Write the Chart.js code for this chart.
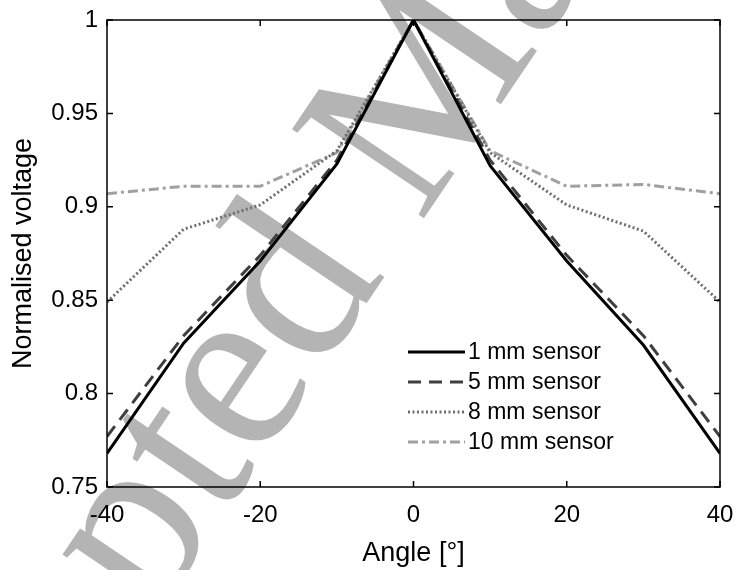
<!DOCTYPE html>
<html>
<head>
    <title>Normalised voltage vs angle</title>
    <style>
        body { margin: 0; padding: 0; background: #fff; }
        #chartContainer { width: 736px; height: 570px; }
    </style>
    <script src="https://cdn.jsdelivr.net/npm/chart.js"></script>
</head>
<body>

    <div id="chartContainer">
        <canvas id="myLineChart"></canvas>
    </div>

    <script>
        const angles = [-40, -30, -20, -10, 0, 10, 20, 30, 40];
        const sensor1mm = [0.768, 0.827, 0.871, 0.923, 1, 0.922, 0.871, 0.826, 0.768];
        const sensor5mm = [0.777, 0.831, 0.874, 0.925, 1, 0.925, 0.874, 0.831, 0.777];
        const sensor8mm = [0.849, 0.888, 0.901, 0.930, 1, 0.929, 0.901, 0.887, 0.849];
        const sensor10mm = [0.907, 0.911, 0.911, 0.929, 1, 0.930, 0.911, 0.912, 0.907];
        const seriesLabels = ['1 mm sensor', '5 mm sensor', '8 mm sensor', '10 mm sensor'];
        const yTicks = [0.75, 0.8, 0.85, 0.9, 0.95, 1];
        const xTicks = [-40, -20, 0, 20, 40];

        const fontFamily = "'Liberation Sans', Arial, sans-serif";

        // grey "Accepted Manuscript" stamp behind everything
        const watermark = {
            id: 'watermark',
            beforeDraw(chart) {
                const ctx = chart.ctx;
                ctx.save();
                ctx.translate(-127, 1035);
                ctx.rotate(-56 * Math.PI / 180);
                ctx.font = "243px 'Liberation Serif', 'Times New Roman', serif";
                ctx.fillStyle = '#b4b4b4';
                ctx.textBaseline = 'alphabetic';
                ctx.fillText('Accepted Manuscript', 0, 0);
                ctx.restore();
            }
        };

        // box round the plot with inward ticks, matlab style
        const boxAxes = {
            id: 'boxAxes',
            afterDatasetsDraw(chart) {
                const { ctx, chartArea: a, scales: { x, y } } = chart;
                ctx.save();
                ctx.strokeStyle = '#000';
                ctx.lineWidth = 1.5;
                ctx.setLineDash([]);
                ctx.strokeRect(a.left, a.top, a.right - a.left, a.bottom - a.top);
                ctx.beginPath();
                xTicks.forEach(v => {
                    const px = x.getPixelForValue(v);
                    ctx.moveTo(px, a.bottom); ctx.lineTo(px, a.bottom - 6);
                    ctx.moveTo(px, a.top); ctx.lineTo(px, a.top + 6);
                });
                yTicks.forEach(v => {
                    const py = y.getPixelForValue(v);
                    ctx.moveTo(a.left, py); ctx.lineTo(a.left + 6, py);
                    ctx.moveTo(a.right, py); ctx.lineTo(a.right - 6, py);
                });
                ctx.stroke();
                ctx.restore();
            }
        };

        const lineLegend = {
            id: 'lineLegend',
            afterDraw(chart) {
                const { ctx, chartArea: a } = chart;
                const x0 = a.left + 301, x1 = a.left + 358;
                ctx.save();
                ctx.font = '23px ' + fontFamily;
                ctx.textBaseline = 'middle';
                ctx.fillStyle = '#000';
                chart.data.datasets.forEach((ds, i) => {
                    const yy = a.top + 332 + i * 30;
                    ctx.strokeStyle = ds.borderColor;
                    ctx.lineWidth = ds.borderWidth;
                    ctx.setLineDash(ds.borderDash || []);
                    ctx.beginPath();
                    ctx.moveTo(x0, yy);
                    ctx.lineTo(x1, yy);
                    ctx.stroke();
                    ctx.fillText(ds.label, x1 + 3, yy + 1);
                });
                ctx.restore();
            }
        };

        const ctx = document.getElementById('myLineChart').getContext('2d');
        new Chart(ctx, {
            type: 'line',
            data: {
                labels: angles,
                datasets: [
                    { label: seriesLabels[0], data: sensor1mm, borderColor: '#000000', borderWidth: 3, borderDash: [] },
                    { label: seriesLabels[1], data: sensor5mm, borderColor: '#3f3f3f', borderWidth: 3, borderDash: [13, 8] },
                    { label: seriesLabels[2], data: sensor8mm, borderColor: '#6e6e6e', borderWidth: 3, borderDash: [2, 2.5] },
                    { label: seriesLabels[3], data: sensor10mm, borderColor: '#a0a0a0', borderWidth: 3, borderDash: [10, 4, 3, 4] }
                ].map(ds => Object.assign(ds, {
                    data: ds.data.map((v, i) => ({ x: angles[i], y: v })),
                    fill: false,
                    tension: 0,
                    pointRadius: 0,
                    borderCapStyle: 'butt'
                }))
            },
            options: {
                responsive: true,
                maintainAspectRatio: false,
                animation: false,
                layout: { padding: { top: 20, right: 16, left: 0, bottom: 0 } },
                plugins: {
                    legend: { display: false },
                    tooltip: { enabled: false }
                },
                scales: {
                    x: {
                        type: 'linear',
                        min: -40,
                        max: 40,
                        afterBuildTicks: axis => { axis.ticks = xTicks.map(v => ({ value: v })); },
                        grid: { display: false, drawTicks: false },
                        border: { display: false },
                        ticks: {
                            color: '#000',
                            padding: 14,
                            font: { family: fontFamily, size: 24 },
                            maxRotation: 0
                        },
                        title: {
                            display: true,
                            text: 'Angle [°]',
                            color: '#000',
                            padding: { top: 6, bottom: 0 },
                            font: { family: fontFamily, size: 27 }
                        },
                        afterFit: axis => {
                            axis.height = 83;
                            axis.paddingLeft = 0;
                            axis.paddingRight = 0;
                        }
                    },
                    y: {
                        min: 0.75,
                        max: 1,
                        afterBuildTicks: axis => { axis.ticks = yTicks.map(v => ({ value: v })); },
                        grid: { display: false, drawTicks: false },
                        border: { display: false },
                        ticks: {
                            color: '#000',
                            padding: 9,
                            font: { family: fontFamily, size: 24 },
                            callback: v => String(Math.round(v * 100) / 100)
                        },
                        title: {
                            display: true,
                            text: 'Normalised voltage',
                            color: '#000',
                            padding: { top: 7, bottom: 0 },
                            font: { family: fontFamily, size: 27 }
                        },
                        afterFit: axis => {
                            axis.width = 107;
                            axis.paddingTop = 0;
                            axis.paddingBottom = 0;
                        }
                    }
                }
            },
            plugins: [watermark, boxAxes, lineLegend]
        });
    </script>

</body>
</html>
